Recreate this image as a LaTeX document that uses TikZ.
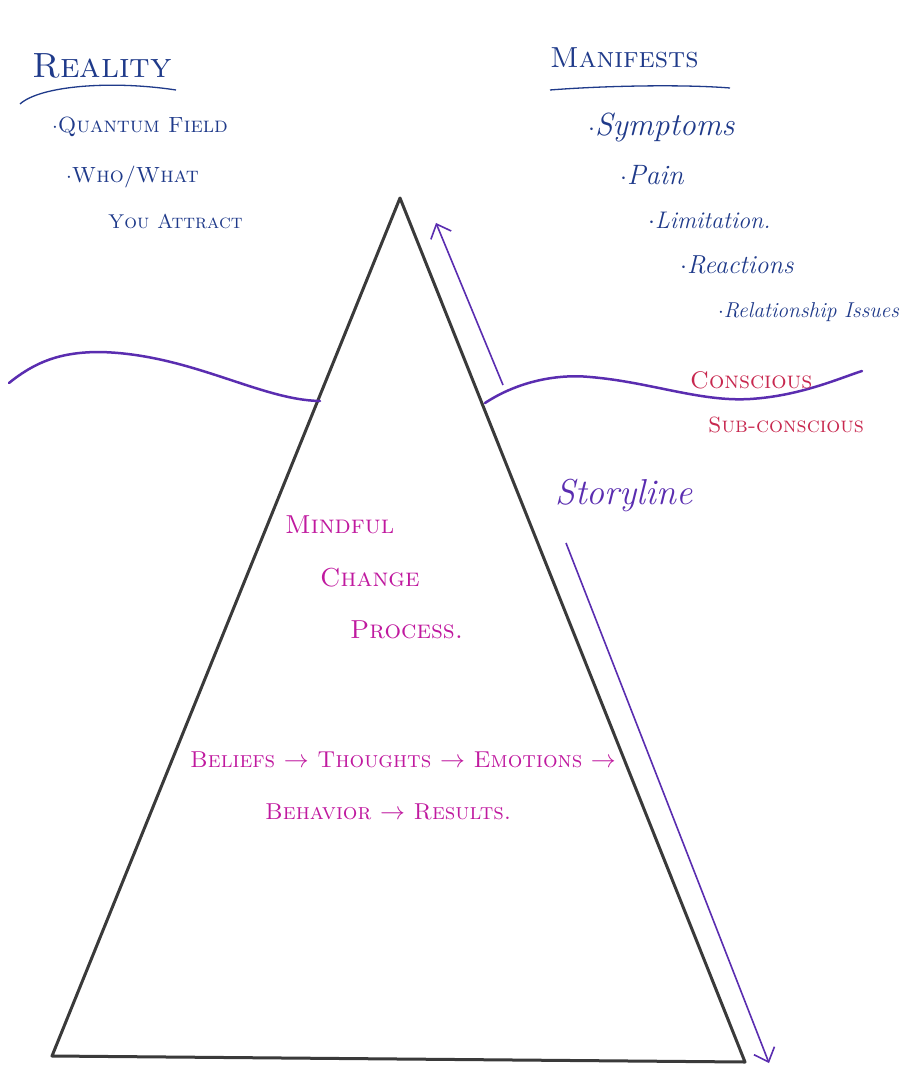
\documentclass[tikz,border=0pt]{standalone}
\usetikzlibrary{arrows.meta}
\definecolor{ink}{HTML}{1F3A8A}
\definecolor{pen}{HTML}{5A2DB0}
\definecolor{mag}{HTML}{C0199F}
\definecolor{redp}{HTML}{C8284F}
\definecolor{graph}{HTML}{3A3A3A}
\begin{document}
\begin{tikzpicture}[x=1pt,y=-1pt,
  lbl/.style={inner sep=0pt,anchor=west},
  bluetxt/.style={lbl,text=ink},
  magtxt/.style={lbl,text=mag},
  redtxt/.style={lbl,text=redp},
  side/.style={draw=graph,line width=3pt,line join=round,line cap=round},
  wave/.style={draw=pen,line width=2.5pt,line cap=round},
  arr/.style={draw=pen,line width=1.6pt,-{Straight Barb[length=12pt,width=22pt,line width=1.6pt]}}]
\useasboundingbox[fill=white] (0,0) rectangle (907,1075);
% triangle
\coordinate (apex) at (400,198);
\coordinate (bl) at (52,1056);
\coordinate (br) at (745,1062);
\draw[side] (bl) -- (apex) -- (br) -- cycle;
% water line
\coordinate (wl0) at (9,383);
\coordinate (wl1) at (320,401);
\coordinate (wr0) at (485,403);
\coordinate (wr1) at (862,371);
\draw[wave] (wl0) .. controls (35,362) and (60,352) .. (100,352) .. controls (190,354) and (260,400) .. (wl1);
\draw[wave] (wr0) .. controls (520,380) and (560,374) .. (590,377) .. controls (650,382) and (700,402) .. (750,399) .. controls (800,396) and (840,378) .. (wr1);
% arrows
\coordinate (u0) at (503,385);
\coordinate (u1) at (436,223);
\draw[arr] (u0) -- (u1);
\coordinate (d0) at (566,543);
\coordinate (d1) at (769,1063);
\draw[arr] (d0) -- (d1);
% Reality
\node[bluetxt,font=\fontsize{35}{37}\selectfont\scshape] (reality) at (32,66) {Reality};
\draw[ink,line width=1.3pt] (20,104) .. controls (40,86) and (110,80) .. (176,90);
\node[bluetxt,font=\fontsize{22}{24}\selectfont\scshape] (qf) at (52,127) {$\cdot$Quantum Field};
\node[bluetxt,font=\fontsize{22}{24}\selectfont\scshape] (who) at (66,177) {$\cdot$Who/What};
\node[bluetxt,font=\fontsize{20}{22}\selectfont\scshape] (you) at (108,221) {You Attract};
% Manifests
\node[bluetxt,font=\fontsize{29}{31}\selectfont\scshape] (man) at (550,58) {Manifests};
\draw[ink,line width=1.3pt] (550,90) .. controls (600,86) and (680,84) .. (730,88);
\node[bluetxt,font=\fontsize{32}{34}\selectfont\itshape] (sym) at (588,128) {$\cdot$Symptoms};
\node[bluetxt,font=\fontsize{28}{30}\selectfont\itshape] (pain) at (620,175) {$\cdot$Pain};
\node[bluetxt,font=\fontsize{24}{26}\selectfont\itshape] (lim) at (648,220) {$\cdot$Limitation.};
\node[bluetxt,font=\fontsize{26}{28}\selectfont\itshape] (rea) at (680,265) {$\cdot$Reactions};
\node[bluetxt,font=\fontsize{21.5}{23}\selectfont\itshape] (rel) at (718,312) {$\cdot$Relationship Issues};
% conscious
\node[redtxt,font=\fontsize{24}{26}\selectfont\scshape] (con) at (690,380) {Conscious};
\node[redtxt,font=\fontsize{22}{24}\selectfont\scshape] (sub) at (708,425) {Sub-conscious};
% storyline
\node[lbl,text=pen,font=\fontsize{36}{38}\selectfont\itshape] (story) at (555,495) {Storyline};
% mindful
\node[magtxt,font=\fontsize{26}{28}\selectfont\scshape] (mind) at (285,525) {Mindful};
\node[magtxt,font=\fontsize{26}{28}\selectfont\scshape] (chg) at (320,578) {Change};
\node[magtxt,font=\fontsize{26}{28}\selectfont\scshape] (proc) at (350,630) {Process.};
\node[magtxt,font=\fontsize{23}{25}\selectfont\scshape] (bel) at (190,760) {Beliefs $\rightarrow$ Thoughts $\rightarrow$ Emotions $\rightarrow$};
\node[magtxt,font=\fontsize{23}{25}\selectfont\scshape] (beh) at (265,812) {Behavior $\rightarrow$ Results.};
\end{tikzpicture}
\end{document}
